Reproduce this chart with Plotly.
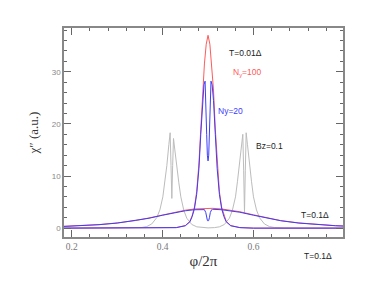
import plotly.graph_objects as go

# ---- data ----
# T=0.01Δ, Ny=100 (red, sharp)
red_sharp_x = [0.183, 0.40, 0.43, 0.45, 0.46, 0.465, 0.47, 0.475, 0.48, 0.484, 0.488, 0.492, 0.496, 0.50,
               0.504, 0.508, 0.512, 0.516, 0.52, 0.525, 0.53, 0.535, 0.54, 0.55, 0.57, 0.60, 0.797]
red_sharp_y = [0.0, 0.0, 0.1, 0.5, 1.3, 2.4, 4.0, 7.0, 12.5, 19.0, 26.5, 31.5, 35.3, 37.0,
               35.3, 31.5, 26.5, 19.0, 12.5, 7.0, 4.0, 2.4, 1.3, 0.5, 0.1, 0.0, 0.0]

# T=0.01Δ, Ny=20 (blue, sharp, split top)
blue_sharp_x = [0.183, 0.40, 0.43, 0.45, 0.46, 0.465, 0.47, 0.475, 0.48, 0.484, 0.488, 0.491, 0.4935, 0.4955,
                0.497, 0.4985, 0.50, 0.5015, 0.503, 0.5045, 0.5065, 0.509, 0.512, 0.516, 0.52, 0.525, 0.53,
                0.535, 0.54, 0.55, 0.57, 0.60, 0.797]
blue_sharp_y = [0.0, 0.0, 0.1, 0.45, 1.2, 2.2, 3.7, 6.5, 11.5, 18.0, 24.5, 27.5, 28.2, 24.0,
                18.0, 14.0, 12.9, 14.0, 18.0, 24.0, 28.2, 27.5, 24.5, 18.0, 11.5, 6.5, 3.7,
                2.2, 1.2, 0.45, 0.1, 0.0, 0.0]

# T=0.1Δ, Ny=100 (red, broad)
red_broad_x = [0.183, 0.22, 0.26, 0.30, 0.34, 0.37, 0.40, 0.43, 0.45, 0.47, 0.49, 0.50,
               0.51, 0.53, 0.55, 0.57, 0.60, 0.63, 0.66, 0.70, 0.74, 0.78, 0.797]
red_broad_y = [0.35, 0.48, 0.68, 1.0, 1.45, 1.95, 2.55, 3.15, 3.45, 3.68, 3.8, 3.82,
               3.8, 3.68, 3.45, 3.15, 2.55, 1.95, 1.45, 1.0, 0.68, 0.48, 0.42]

# T=0.1Δ, Ny=20 (blue, broad with a small dip)
blue_broad_x = [0.183, 0.22, 0.26, 0.30, 0.34, 0.37, 0.40, 0.43, 0.45, 0.47, 0.49, 0.492, 0.495, 0.497,
                0.4985, 0.50, 0.5015, 0.503, 0.505, 0.508, 0.51, 0.53, 0.55, 0.57, 0.60, 0.63, 0.66,
                0.70, 0.74, 0.78, 0.797]
blue_broad_y = [0.33, 0.46, 0.66, 0.97, 1.42, 1.9, 2.48, 3.05, 3.33, 3.53, 3.62, 3.55, 3.0, 2.0,
                1.5, 1.35, 1.5, 2.0, 3.0, 3.55, 3.62, 3.53, 3.33, 3.05, 2.48, 1.9, 1.42,
                0.97, 0.66, 0.46, 0.40]

# Bz=0.1 (gray, two split peaks)
gray_x = [0.183, 0.30, 0.332, 0.354, 0.365, 0.376, 0.387, 0.394, 0.4005, 0.405, 0.4093, 0.4137, 0.4166,
          0.4185, 0.4203, 0.4221, 0.424, 0.4269, 0.4313, 0.4357, 0.4401, 0.4467, 0.4533, 0.4643, 0.4753,
          0.4863, 0.50, 0.5139, 0.5249, 0.5359, 0.5469, 0.5535, 0.5604, 0.5648, 0.5692, 0.5736, 0.5765,
          0.5784, 0.5802, 0.582, 0.5839, 0.5868, 0.5912, 0.5956, 0.60, 0.6066, 0.6132, 0.6242, 0.6352,
          0.6462, 0.668, 0.797]
gray_y = [0.0, 0.0, 0.03, 0.12, 0.3, 0.8, 2.0, 3.5, 6.0, 9.0, 12.0, 16.0, 18.3,
          12.0, 5.7, 12.0, 17.2, 15.0, 11.5, 8.7, 6.0, 3.4, 1.9, 0.7, 0.25,
          0.1, 0.05, 0.1, 0.25, 0.7, 1.9, 3.4, 6.0, 9.0, 12.0, 16.0, 18.0,
          11.0, 3.0, 11.0, 18.3, 16.0, 12.0, 9.0, 6.0, 3.5, 2.0, 0.8, 0.3,
          0.12, 0.03, 0.0]

x_ticks = [0.2, 0.4, 0.6]
x_tick_labels = ["0.2", "0.4", "0.6"]
y_ticks = [0, 10, 20, 30]
y_tick_labels = ["0", "10", "20", "30"]

RED = "#ff5a5a"
BLUE = "#3c3cff"
GRAY = "#bcbcbc"

fig = go.Figure()
fig.add_trace(go.Scatter(x=gray_x, y=gray_y, mode="lines", line=dict(color=GRAY, width=1)))
fig.add_trace(go.Scatter(x=red_sharp_x, y=red_sharp_y, mode="lines", line=dict(color=RED, width=1)))
fig.add_trace(go.Scatter(x=red_broad_x, y=red_broad_y, mode="lines", line=dict(color=RED, width=1)))
fig.add_trace(go.Scatter(x=blue_sharp_x, y=blue_sharp_y, mode="lines", line=dict(color=BLUE, width=1)))
fig.add_trace(go.Scatter(x=blue_broad_x, y=blue_broad_y, mode="lines", line=dict(color=BLUE, width=1)))

ann_font = dict(family="Liberation Sans, Arial, sans-serif", size=8.5, color="#222")
annotations = [
    dict(x=0.582, y=33.6, text="T=0.01Δ", font=ann_font, xref="x", yref="y"),
    dict(x=0.587, y=29.9, text="N<sub>y</sub>=100", font=dict(ann_font, color=RED), xref="x", yref="y"),
    dict(x=0.549, y=22.4, text="Ny=20", font=dict(ann_font, color=BLUE), xref="x", yref="y"),
    dict(x=0.636, y=15.7, text="Bz=0.1", font=ann_font, xref="x", yref="y"),
    dict(x=0.735, y=2.45, text="T=0.1Δ", font=ann_font, xref="x", yref="y"),
    dict(x=0.741, y=-0.091, text="T=0.1Δ", font=ann_font, xref="x", yref="paper"),
]
for a in annotations:
    a.update(showarrow=False, xanchor="center", yanchor="middle")

# the page adds an 8px body margin, so the margins are offset by 8px
fig.update_layout(
    width=382, height=286,
    margin=dict(l=56, r=47, t=20, b=57),
    paper_bgcolor="white", plot_bgcolor="white",
    showlegend=False,
    annotations=annotations,
)
fig.update_xaxes(
    range=[0.183, 0.797], tickvals=x_ticks, ticktext=x_tick_labels,
    ticks="inside", ticklen=7, tickwidth=1, tickcolor="#666",
    minor=dict(dtick=0.04, tick0=0.2, ticks="inside", ticklen=3, tickcolor="#666"),
    showline=True, linecolor="#888", linewidth=1.5, mirror="ticks",
    showgrid=False, zeroline=False,
    tickfont=dict(family="Liberation Serif, serif", size=9.5, color="#777"),
    title=dict(text="φ/2π", font=dict(family="Liberation Serif, serif", size=15, color="#333"), standoff=4),
)
fig.update_yaxes(
    range=[-1.7, 38.4], tickvals=y_ticks, ticktext=y_tick_labels,
    ticks="inside", ticklen=7, tickwidth=1, tickcolor="#666",
    minor=dict(dtick=2, tick0=0, ticks="inside", ticklen=3, tickcolor="#666"),
    showline=True, linecolor="#888", linewidth=1.5, mirror="ticks",
    showgrid=False, zeroline=False,
    tickfont=dict(family="Liberation Sans, sans-serif", size=8, color="#888"),
    title=dict(text="χ″ (a.u.)", font=dict(family="Liberation Serif, serif", size=13, color="#333"), standoff=10),
)

fig.write_html("out.html")
